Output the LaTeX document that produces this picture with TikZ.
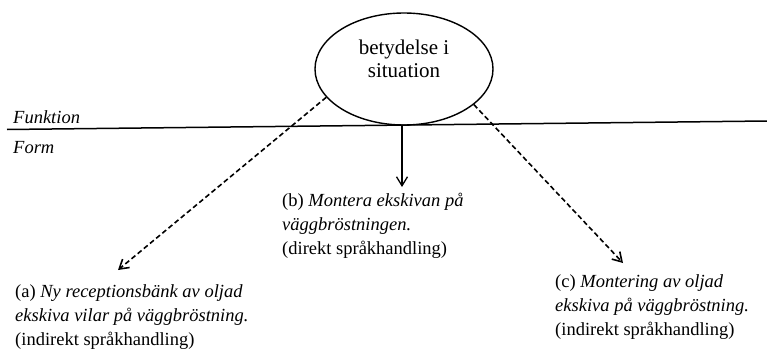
\documentclass[tikz,border=0pt]{standalone}
\usepackage{fontspec}
\setmainfont{Liberation Serif}
\usetikzlibrary{arrows.meta,positioning,shapes.geometric}

\begin{document}
\begin{tikzpicture}[x=1pt, y=-1pt,
  oval/.style={draw, ellipse, line width=1.4pt, minimum width=178pt, minimum height=112pt, inner sep=0pt, align=center, font=\fontsize{21}{23}\selectfont, text depth=20pt},
  ex/.style={anchor=north west, inner sep=0pt, align=left, font=\fontsize{18.5}{24}\selectfont},
  side/.style={anchor=base west, inner sep=0pt, font=\fontsize{18.5}{24}\selectfont\itshape},
  flow/.style={-{Straight Barb[length=9pt, width=11pt]}, line width=1.3pt},
  indir/.style={flow, line width=1.6pt, dash pattern=on 5pt off 3pt}
]
\useasboundingbox (0,0) rectangle (767,353);

\node[oval] (ell) at (404,69) {betydelse i\\ situation};

% Funktion / Form divider
\coordinate (fl) at (7,129.5);
\coordinate (fr) at (767,121);
\draw[line width=1.5pt] (fl) -- (fr);
\node[side] (fun) at (13,123) {Funktion};
\node[side] (form) at (13,153) {Form};

\node[ex] (la) at (15,284) {(a) \textit{Ny receptionsbänk av oljad}\\ \textit{ekskiva vilar på väggbröstning.}\\ (indirekt språkhandling)};
\node[ex] (lb) at (282,193) {(b) \textit{Montera ekskivan på}\\ \textit{väggbröstningen.}\\ (direkt språkhandling)};
\node[ex] (lc) at (555,274) {(c) \textit{Montering av oljad}\\ \textit{ekskiva på väggbröstning.}\\ (indirekt språkhandling)};

\coordinate (tipa) at (118,270);
\coordinate (tipc) at (623,263);

\draw[flow] ([xshift=-2pt]ell.south) -- ([xshift=-2pt, yshift=6pt]ell.south |- lb.north);
\draw[indir] (ell.200) -- (tipa);
\draw[indir] (ell.333) -- (tipc);
\end{tikzpicture}
\end{document}
